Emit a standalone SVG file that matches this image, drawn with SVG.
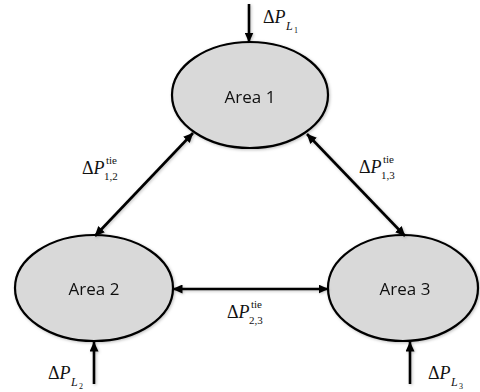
<svg xmlns="http://www.w3.org/2000/svg" width="480" height="392" viewBox="0 0 480 392">
<style>
.area{fill:#d9d9d9;stroke:#000;stroke-width:2.2}
.lbl{font-family:"Open Sans","Liberation Sans",sans-serif;font-size:17px;fill:#111;text-anchor:middle}
.conn{stroke:#000;stroke-width:2.6;fill:none}
.m{font-family:"Liberation Serif","Times New Roman",serif;fill:#111}
.big{font-size:18px}
.sup{font-size:11px}
.sub{font-size:12px;font-style:italic}
.sub2{font-size:8px}
</style>
<defs>
<marker id="ah" viewBox="0 0 10 9" refX="9.5" refY="4.5" markerWidth="10" markerHeight="9" markerUnits="userSpaceOnUse" orient="auto-start-reverse">
<path d="M0,0 L10,4.5 L0,9 z" fill="#000"/>
</marker>
<filter id="sh" x="-20%" y="-20%" width="140%" height="140%">
<feDropShadow dx="1" dy="1" stdDeviation="1.5" flood-color="#000" flood-opacity="0.25"/>
</filter>
</defs>
<g id="area1" filter="url(#sh)">
<ellipse class="area" cx="250" cy="95" rx="78" ry="53"/>
<text class="lbl" x="250" y="103">Area 1</text>
</g>
<g id="area2" filter="url(#sh)">
<ellipse class="area" cx="94" cy="288" rx="79" ry="53"/>
<text class="lbl" x="94" y="295">Area 2</text>
</g>
<g id="area3" filter="url(#sh)">
<ellipse class="area" cx="403" cy="288" rx="75" ry="53"/>
<text class="lbl" x="405" y="295">Area 3</text>
</g>
<g id="connectors" filter="url(#sh)">
<line class="conn" x1="249" y1="4" x2="249" y2="42" marker-end="url(#ah)"/>
<line class="conn" x1="94" y1="384" x2="94" y2="342" marker-end="url(#ah)"/>
<line class="conn" x1="410" y1="384" x2="410" y2="342" marker-end="url(#ah)"/>
<line class="conn" x1="193" y1="133" x2="95" y2="236" marker-start="url(#ah)" marker-end="url(#ah)"/>
<line class="conn" x1="307" y1="134" x2="405" y2="236" marker-start="url(#ah)" marker-end="url(#ah)"/>
<line class="conn" x1="173" y1="289" x2="328" y2="289" marker-start="url(#ah)" marker-end="url(#ah)"/>
</g>
<g id="labels">
<text class="m big" x="263" y="23">Δ<tspan font-style="italic">P</tspan></text>
<text class="m sub" x="286" y="30">L</text>
<text class="m sub2" x="294" y="33">1</text>

<text class="m big" x="48" y="379">Δ<tspan font-style="italic">P</tspan></text>
<text class="m sub" x="71" y="386">L</text>
<text class="m sub2" x="79" y="389">2</text>

<text class="m big" x="428" y="379">Δ<tspan font-style="italic">P</tspan></text>
<text class="m sub" x="451" y="386">L</text>
<text class="m sub2" x="459" y="389">3</text>

<text class="m big" x="82" y="174">Δ<tspan font-style="italic">P</tspan></text>
<text class="m sup" x="106" y="164">tie</text>
<text class="m sup" x="104" y="180">1,2</text>

<text class="m big" x="359" y="173">Δ<tspan font-style="italic">P</tspan></text>
<text class="m sup" x="383" y="163">tie</text>
<text class="m sup" x="381" y="179">1,3</text>

<text class="m big" x="227" y="318">Δ<tspan font-style="italic">P</tspan></text>
<text class="m sup" x="251" y="308">tie</text>
<text class="m sup" x="249" y="324">2,3</text>
</g>
</svg>
